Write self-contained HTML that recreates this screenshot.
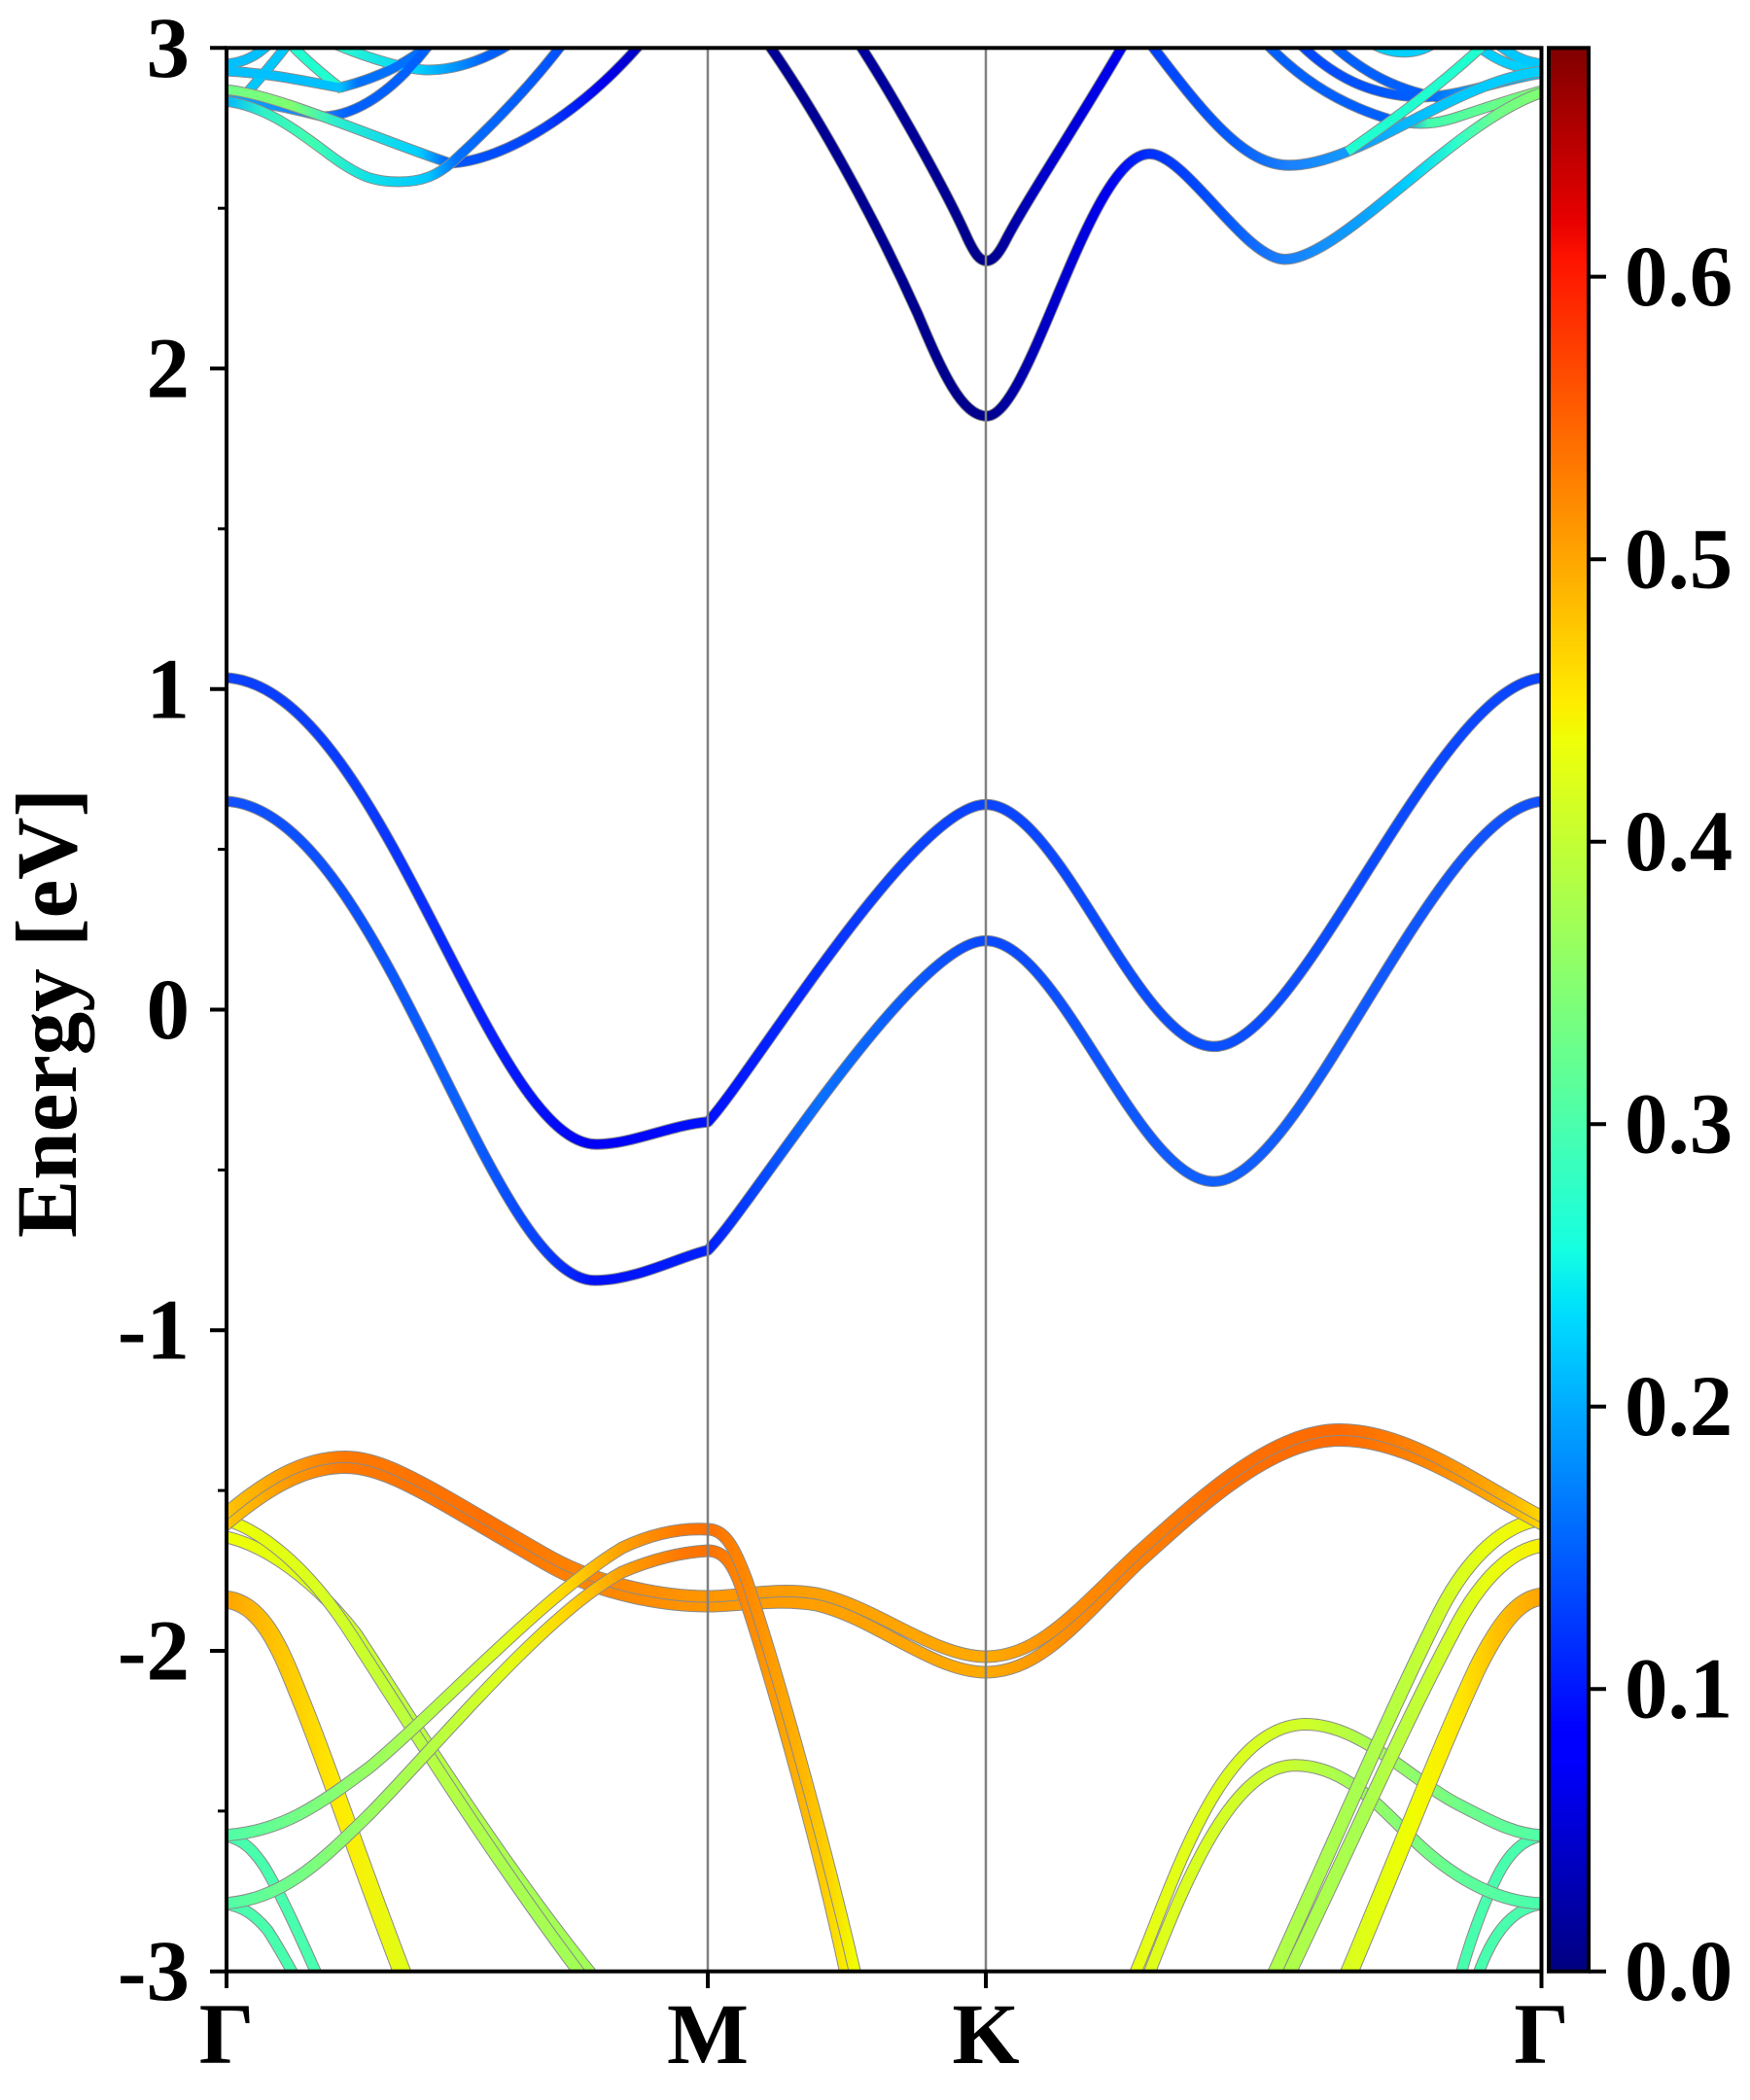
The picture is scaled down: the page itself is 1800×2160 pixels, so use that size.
<!DOCTYPE html>
<html>
<head>
<meta charset="utf-8">
<style>
html,body{margin:0;padding:0;background:#ffffff;}
svg{display:block;}
</style>
</head>
<body>
<svg width="1800" height="2160" viewBox="0 0 1800 2160" xmlns="http://www.w3.org/2000/svg">
<defs>
<clipPath id="clip"><rect x="233" y="49.3" width="1352.5" height="1978.4"/></clipPath>

<linearGradient id="jet" x1="0" y1="1" x2="0" y2="0">
<stop offset="0" stop-color="#000080"/><stop offset="0.11" stop-color="#0000ff"/><stop offset="0.125" stop-color="#0000ff"/>
<stop offset="0.34" stop-color="#00dbff"/><stop offset="0.35" stop-color="#00e6f7"/><stop offset="0.375" stop-color="#15ffe2"/>
<stop offset="0.5" stop-color="#7bff7b"/><stop offset="0.64" stop-color="#efff08"/><stop offset="0.65" stop-color="#f7f500"/>
<stop offset="0.66" stop-color="#ffec00"/><stop offset="0.89" stop-color="#ff1300"/><stop offset="0.91" stop-color="#e80000"/>
<stop offset="1" stop-color="#800000"/>
</linearGradient>

<linearGradient id="gA" gradientUnits="userSpaceOnUse" x1="233" y1="0" x2="1585.5" y2="0">
<stop offset="0" stop-color="#0a40ff"/><stop offset="0.1" stop-color="#0a3cff"/><stop offset="0.2" stop-color="#0820ff"/>
<stop offset="0.28" stop-color="#0000f5"/><stop offset="0.366" stop-color="#0010ff"/><stop offset="0.5" stop-color="#0a40ff"/>
<stop offset="0.5775" stop-color="#0a44ff"/><stop offset="0.75" stop-color="#0a50ff"/><stop offset="1" stop-color="#0a44ff"/>
</linearGradient>
<linearGradient id="gB" gradientUnits="userSpaceOnUse" x1="233" y1="0" x2="1585.5" y2="0">
<stop offset="0" stop-color="#1050ff"/><stop offset="0.1" stop-color="#0a50ff"/><stop offset="0.18" stop-color="#0a62ff"/>
<stop offset="0.24" stop-color="#0840ff"/><stop offset="0.28" stop-color="#0010f8"/><stop offset="0.366" stop-color="#0020ff"/>
<stop offset="0.45" stop-color="#0a70ff"/><stop offset="0.5775" stop-color="#0a48ff"/><stop offset="0.75" stop-color="#1060ff"/>
<stop offset="1" stop-color="#1050ff"/>
</linearGradient>
<linearGradient id="gC" gradientUnits="userSpaceOnUse" x1="233" y1="0" x2="1585.5" y2="0">
<stop offset="0.4133" stop-color="#000096"/><stop offset="0.5775" stop-color="#00008c"/><stop offset="0.6263" stop-color="#0000c8"/>
<stop offset="0.6706" stop-color="#0000f0"/><stop offset="0.7017" stop-color="#0030ff"/><stop offset="0.7519" stop-color="#0050ff"/>
<stop offset="0.8044" stop-color="#1a80ff"/><stop offset="0.8628" stop-color="#0aa0ff"/><stop offset="0.8998" stop-color="#00d0ff"/>
<stop offset="0.9368" stop-color="#30ffc8"/><stop offset="0.9664" stop-color="#70ff88"/><stop offset="1" stop-color="#80ff70"/>
</linearGradient>
<linearGradient id="gD" gradientUnits="userSpaceOnUse" x1="233" y1="0" x2="1585.5" y2="0">
<stop offset="0.4828" stop-color="#0000a0"/><stop offset="0.5775" stop-color="#00008c"/><stop offset="0.6263" stop-color="#0000d0"/>
<stop offset="0.681" stop-color="#0000f0"/>
</linearGradient>
<linearGradient id="gE" gradientUnits="userSpaceOnUse" x1="233" y1="0" x2="1585.5" y2="0">
<stop offset="0.7017" stop-color="#0040ff"/><stop offset="0.7593" stop-color="#0058ff"/><stop offset="0.8081" stop-color="#1a80ff"/>
<stop offset="0.8628" stop-color="#10a0ff"/><stop offset="0.922" stop-color="#00c8ff"/><stop offset="1" stop-color="#00d0ff"/>
</linearGradient>
<linearGradient id="gTL1" gradientUnits="userSpaceOnUse" x1="233" y1="0" x2="1585.5" y2="0">
<stop offset="0" stop-color="#00b8ff"/><stop offset="0.0274" stop-color="#30f0c8"/><stop offset="0.0643" stop-color="#40ffb0"/>
<stop offset="0.1087" stop-color="#10e0e8"/><stop offset="0.1531" stop-color="#00c8ff"/><stop offset="0.1752" stop-color="#0070ff"/>
<stop offset="0.2566" stop-color="#0050ff"/>
</linearGradient>
<linearGradient id="gTL2" gradientUnits="userSpaceOnUse" x1="233" y1="0" x2="1585.5" y2="0">
<stop offset="0" stop-color="#70ff88"/><stop offset="0.0495" stop-color="#80ff70"/><stop offset="0.0791" stop-color="#30f0c8"/>
<stop offset="0.1457" stop-color="#00d0ff"/><stop offset="0.1701" stop-color="#0058ff"/><stop offset="0.2418" stop-color="#0040ff"/>
<stop offset="0.2861" stop-color="#0000f0"/><stop offset="0.3157" stop-color="#0000c0"/>
</linearGradient>
<linearGradient id="gTL3" gradientUnits="userSpaceOnUse" x1="233" y1="0" x2="1585.5" y2="0">
<stop offset="0" stop-color="#00a8ff"/><stop offset="0.0717" stop-color="#1a80ff"/><stop offset="0.0939" stop-color="#0060ff"/><stop offset="1" stop-color="#0060ff"/>
</linearGradient>
<linearGradient id="gTL4" gradientUnits="userSpaceOnUse" x1="233" y1="0" x2="1585.5" y2="0">
<stop offset="0" stop-color="#00c0ff"/><stop offset="0.0865" stop-color="#00c0ff"/><stop offset="0.1" stop-color="#0070ff"/><stop offset="1" stop-color="#0070ff"/>
</linearGradient>
<linearGradient id="gTL5" gradientUnits="userSpaceOnUse" x1="233" y1="0" x2="1585.5" y2="0">
<stop offset="0.0791" stop-color="#30ffc8"/><stop offset="0.1457" stop-color="#00d0ff"/><stop offset="0.1974" stop-color="#0060ff"/><stop offset="1" stop-color="#0060ff"/>
</linearGradient>
<linearGradient id="gTR1" gradientUnits="userSpaceOnUse" x1="233" y1="0" x2="1585.5" y2="0">
<stop offset="0.7889" stop-color="#0060ff"/><stop offset="0.885" stop-color="#0060ff"/><stop offset="0.9146" stop-color="#40ffb0"/><stop offset="1" stop-color="#80ff70"/>
</linearGradient>
<linearGradient id="gTR2" gradientUnits="userSpaceOnUse" x1="233" y1="0" x2="1585.5" y2="0">
<stop offset="0.8" stop-color="#0040ff"/><stop offset="0.9072" stop-color="#0060ff"/><stop offset="0.9368" stop-color="#0090ff"/><stop offset="1" stop-color="#00c0ff"/>
</linearGradient>

<linearGradient id="gP1" gradientUnits="userSpaceOnUse" x1="233" y1="0" x2="1585.5" y2="0">
<stop offset="0" stop-color="#ffc400"/><stop offset="0.0495" stop-color="#ff9800"/><stop offset="0.0902" stop-color="#ff7800"/>
<stop offset="0.1974" stop-color="#ff7000"/><stop offset="0.2714" stop-color="#ff8400"/><stop offset="0.366" stop-color="#ff9600"/>
<stop offset="0.4562" stop-color="#ffa000"/><stop offset="0.5775" stop-color="#ffaa00"/><stop offset="0.641" stop-color="#ff8c00"/>
<stop offset="0.7519" stop-color="#ff7000"/><stop offset="0.8466" stop-color="#ff6a00"/><stop offset="0.922" stop-color="#ff8a00"/>
<stop offset="0.9738" stop-color="#ffb000"/><stop offset="1" stop-color="#ffd800"/>
</linearGradient>
<linearGradient id="gP2" gradientUnits="userSpaceOnUse" x1="233" y1="0" x2="1585.5" y2="0">
<stop offset="0" stop-color="#f0ff00"/><stop offset="0.0717" stop-color="#d8ff20"/><stop offset="0.1457" stop-color="#b8ff40"/>
<stop offset="0.2196" stop-color="#a8ff50"/><stop offset="0.2861" stop-color="#a0ff58"/>
</linearGradient>
<linearGradient id="gV3" gradientUnits="userSpaceOnUse" x1="233" y1="0" x2="1585.5" y2="0">
<stop offset="0" stop-color="#ffa500"/><stop offset="0.0495" stop-color="#ffcc00"/><stop offset="0.0865" stop-color="#ffec00"/><stop offset="0.1383" stop-color="#e0ff18"/>
</linearGradient>
<linearGradient id="gV4" gradientUnits="userSpaceOnUse" x1="233" y1="0" x2="1585.5" y2="0">
<stop offset="0" stop-color="#50ffa8"/><stop offset="0.0495" stop-color="#70ff88"/><stop offset="0.1087" stop-color="#98ff60"/>
<stop offset="0.1604" stop-color="#b8ff40"/><stop offset="0.2122" stop-color="#e0ff18"/><stop offset="0.2566" stop-color="#ffd800"/>
<stop offset="0.3009" stop-color="#ffa000"/><stop offset="0.3453" stop-color="#ff7800"/><stop offset="0.366" stop-color="#ff7000"/>
<stop offset="0.4044" stop-color="#ff9000"/><stop offset="0.434" stop-color="#ffb000"/><stop offset="0.4562" stop-color="#ffd000"/>
<stop offset="0.4784" stop-color="#f0ff00"/>
</linearGradient>
<linearGradient id="gA1" gradientUnits="userSpaceOnUse" x1="233" y1="0" x2="1585.5" y2="0">
<stop offset="0.8" stop-color="#b0ff48"/><stop offset="0.8628" stop-color="#a8ff50"/><stop offset="0.9146" stop-color="#c8ff30"/>
<stop offset="0.959" stop-color="#e8ff10"/><stop offset="1" stop-color="#f8f000"/>
</linearGradient>
<linearGradient id="gA2" gradientUnits="userSpaceOnUse" x1="233" y1="0" x2="1585.5" y2="0">
<stop offset="0.85" stop-color="#d8ff20"/><stop offset="0.8998" stop-color="#f0ff00"/><stop offset="0.9368" stop-color="#ffe800"/>
<stop offset="0.9664" stop-color="#ffc000"/><stop offset="1" stop-color="#ffa500"/>
</linearGradient>
<linearGradient id="gH1" gradientUnits="userSpaceOnUse" x1="233" y1="0" x2="1585.5" y2="0">
<stop offset="0.69" stop-color="#e8ff10"/><stop offset="0.8207" stop-color="#d0ff28"/><stop offset="0.8703" stop-color="#a8ff50"/>
<stop offset="0.9368" stop-color="#70ff88"/><stop offset="1" stop-color="#50ffa8"/>
</linearGradient>
<linearGradient id="gH2" gradientUnits="userSpaceOnUse" x1="233" y1="0" x2="1585.5" y2="0">
<stop offset="0.7" stop-color="#e0ff18"/><stop offset="0.8081" stop-color="#c8ff30"/><stop offset="0.8776" stop-color="#90ff68"/>
<stop offset="0.9368" stop-color="#60ff98"/><stop offset="1" stop-color="#48ffae"/>
</linearGradient>
</defs>

<g clip-path="url(#clip)" fill="none" stroke-linejoin="round" stroke-linecap="butt">
<!-- upper tangles top-left -->
<g stroke="#8a8a8a" stroke-width="11">
<path d="M230,66 C250,65 265,58 282,40"/>
<path d="M300,40 C285,60 268,80 250,100"/>
<path d="M292,38 C310,58 330,75 352,92"/>
<path d="M328,38 C375,60 420,72 440,72 C470,72 505,60 535,38"/>
<path d="M230,73 C280,75 320,85 350,90 C390,80 420,65 452,38"/>
<path d="M230,103 C270,104 300,112 333,120 C370,118 410,90 447,38"/>
</g>
<path d="M230,66 C250,65 265,58 282,40" stroke="#00c0ff" stroke-width="9"/>
<path d="M300,40 C285,60 268,80 250,100" stroke="#00c8ff" stroke-width="9"/>
<path d="M292,38 C310,58 330,75 352,92" stroke="#20ffd0" stroke-width="9"/>
<path d="M328,38 C375,60 420,72 440,72 C470,72 505,60 535,38" stroke="url(#gTL5)" stroke-width="9"/>
<path d="M230,73 C280,75 320,85 350,90 C390,80 420,65 452,38" stroke="url(#gTL4)" stroke-width="9"/>
<path d="M230,103 C270,104 300,112 333,120 C370,118 410,90 447,38" stroke="url(#gTL3)" stroke-width="9"/>
<path d="M230,92 C280,95 380,140 463,168 C520,165 600,115 665,38" stroke="#8a8a8a" stroke-width="11"/>
<path d="M230,92 C280,95 380,140 463,168 C520,165 600,115 665,38" stroke="url(#gTL2)" stroke-width="9"/>
<path d="M230,104 C270,108 300,130 340,160 C370,182 385,187 410,187 C435,187 450,180 465,167 C500,135 545,90 584,38" stroke="#8a8a8a" stroke-width="11"/>
<path d="M230,104 C270,108 300,130 340,160 C370,182 385,187 410,187 C435,187 450,180 465,167 C500,135 545,90 584,38" stroke="url(#gTL1)" stroke-width="9"/>

<!-- upper tangles top-right -->
<g stroke="#8a8a8a" stroke-width="11">
<path d="M1410,44 C1430,56 1455,58 1476,44"/>
<path d="M1512,40 C1535,62 1560,72 1590,72"/>
<path d="M1534,40 C1555,58 1570,65 1590,66"/>
<path d="M1362,38 C1400,75 1440,95 1490,102"/>
<path d="M1330,38 C1370,80 1410,98 1460,100 C1500,100 1550,80 1590,75"/>
<path d="M1296,38 C1330,75 1370,105 1430,123 C1460,130 1480,127 1500,120 C1530,110 1560,100 1590,92"/>
</g>
<path d="M1410,44 C1430,56 1455,58 1476,44" stroke="#00d0ff" stroke-width="9"/>
<path d="M1512,40 C1535,62 1560,72 1590,72" stroke="#00d0ff" stroke-width="9"/>
<path d="M1534,40 C1555,58 1570,65 1590,66" stroke="#00c8ff" stroke-width="9"/>
<path d="M1362,38 C1400,75 1440,95 1490,102" stroke="#0060ff" stroke-width="9"/>
<path d="M1330,38 C1370,80 1410,98 1460,100 C1500,100 1550,80 1590,75" stroke="url(#gTR2)" stroke-width="9"/>
<path d="M1296,38 C1330,75 1370,105 1430,123 C1460,130 1480,127 1500,120 C1530,110 1560,100 1590,92" stroke="url(#gTR1)" stroke-width="9"/>

<!-- conduction bands -->
<path d="M1178,38 C1240,120 1280,170 1326,170 C1400,170 1500,80 1590,73" stroke="#8a8a8a" stroke-width="11.5"/>
<path d="M1178,38 C1240,120 1280,170 1326,170 C1400,170 1500,80 1590,73" stroke="url(#gE)" stroke-width="9.5"/>
<path d="M1386,156 C1430,125 1480,90 1535,38" stroke="#8a8a8a" stroke-width="11"/>
<path d="M1386,156 C1430,125 1480,90 1535,38" stroke="#20ffd0" stroke-width="9"/>
<path d="M879,38 C920,100 975,200 995,245 C1003,262 1008,268.3 1014.8,268.3 C1021,268.3 1027,262 1035,246 C1058,202 1118,112 1160,38" stroke="#8a8a8a" stroke-width="11.5"/>
<path d="M879,38 C920,100 975,200 995,245 C1003,262 1008,268.3 1014.8,268.3 C1021,268.3 1027,262 1035,246 C1058,202 1118,112 1160,38" stroke="url(#gD)" stroke-width="9.5"/>
<path d="M785,38 C840,115 900,225 944,323 C970,385 990,428 1014.8,428 C1060,428 1120,158.3 1182.6,158.3 C1220,158.3 1280,266.7 1321.6,266.7 C1380,266.7 1500,120 1590,94" stroke="#8a8a8a" stroke-width="11.5"/>
<path d="M785,38 C840,115 900,225 944,323 C970,385 990,428 1014.8,428 C1060,428 1120,158.3 1182.6,158.3 C1220,158.3 1280,266.7 1321.6,266.7 C1380,266.7 1500,120 1590,94" stroke="url(#gC)" stroke-width="9.5"/>

<path d="M228,697 C390,697 500,1177 613.7,1177 C650,1177 690,1157 728,1154 C770,1110 940,827.5 1014,827.5 C1090,827.5 1170,1076.4 1248.8,1076.4 C1340,1076.4 1480,697 1590,697" stroke="#8a8a8a" stroke-width="11.5"/>
<path d="M228,697 C390,697 500,1177 613.7,1177 C650,1177 690,1157 728,1154 C770,1110 940,827.5 1014,827.5 C1090,827.5 1170,1076.4 1248.8,1076.4 C1340,1076.4 1480,697 1590,697" stroke="url(#gA)" stroke-width="9.5"/>
<path d="M228,824 C390,824 500,1317 612,1317 C655,1317 700,1292 728,1286 C770,1245 940,967.6 1014,967.6 C1090,967.6 1170,1215.3 1248.8,1215.3 C1340,1215.3 1480,824 1590,824" stroke="#8a8a8a" stroke-width="11.5"/>
<path d="M228,824 C390,824 500,1317 612,1317 C655,1317 700,1292 728,1286 C770,1245 940,967.6 1014,967.6 C1090,967.6 1170,1215.3 1248.8,1215.3 C1340,1215.3 1480,824 1590,824" stroke="url(#gB)" stroke-width="9.5"/>

<!-- valence: green descending -->
<g stroke="#8a8a8a" stroke-width="12">
<path d="M228,1888 C250,1890 262,1905 272,1920 C290,1950 310,1995 330,2040"/>
<path d="M228,1958 C250,1960 262,1970 275,1985 C285,2000 295,2018 307,2040"/>
<path d="M1590,1888 C1565,1890 1550,1910 1540,1930 C1525,1960 1512,1995 1500,2040"/>
<path d="M1590,1958 C1565,1960 1550,1975 1540,1990 C1530,2005 1524,2020 1517,2040"/>
</g>
<g stroke="#48ffae" stroke-width="10">
<path d="M228,1888 C250,1890 262,1905 272,1920 C290,1950 310,1995 330,2040"/>
<path d="M228,1958 C250,1960 262,1970 275,1985 C285,2000 295,2018 307,2040"/>
<path d="M1590,1888 C1565,1890 1550,1910 1540,1930 C1525,1960 1512,1995 1500,2040"/>
<path d="M1590,1958 C1565,1960 1550,1975 1540,1990 C1530,2005 1524,2020 1517,2040"/>
</g>

<!-- H1, H2 -->
<path d="M1178,2040 C1215,1945 1265,1815.7 1332,1815.7 C1385,1815.7 1420,1860 1460,1898 C1500,1935 1545,1958 1590,1958" stroke="#8a8a8a" stroke-width="13"/>
<path d="M1178,2040 C1215,1945 1265,1815.7 1332,1815.7 C1385,1815.7 1420,1860 1460,1898 C1500,1935 1545,1958 1590,1958" stroke="url(#gH2)" stroke-width="11"/>
<path d="M1163,2040 C1200,1960 1250,1773.5 1343,1773.5 C1400,1773.5 1450,1830 1500,1856 C1535,1874 1560,1888 1590,1888" stroke="#8a8a8a" stroke-width="13"/>
<path d="M1163,2040 C1200,1960 1250,1773.5 1343,1773.5 C1400,1773.5 1450,1830 1500,1856 C1535,1874 1560,1888 1590,1888" stroke="url(#gH1)" stroke-width="11"/>

<!-- P2 descending pair left -->
<path d="M228,1580 C272,1588 324,1626 366,1680 C406,1740 506,1905 616,2040" stroke="#8a8a8a" stroke-width="13"/>
<path d="M228,1580 C272,1588 324,1626 366,1680 C406,1740 506,1905 616,2040" stroke="url(#gP2)" stroke-width="11"/>
<path d="M228,1562 C270,1573 316,1614 354,1670 C394,1730 494,1895 604,2040" stroke="#8a8a8a" stroke-width="13"/>
<path d="M228,1562 C270,1573 316,1614 354,1670 C394,1730 494,1895 604,2040" stroke="url(#gP2)" stroke-width="11"/>

<!-- A1 ascending pair right -->
<path d="M1321,2040 C1388,1900 1446,1770 1494,1680 C1522,1625 1555,1592 1590,1589" stroke="#8a8a8a" stroke-width="15"/>
<path d="M1321,2040 C1388,1900 1446,1770 1494,1680 C1522,1625 1555,1592 1590,1589" stroke="url(#gA1)" stroke-width="13"/>
<path d="M1306,2040 C1370,1900 1430,1760 1480,1660 C1510,1600 1550,1565 1590,1562" stroke="#8a8a8a" stroke-width="15"/>
<path d="M1306,2040 C1370,1900 1430,1760 1480,1660 C1510,1600 1550,1565 1590,1562" stroke="url(#gA1)" stroke-width="13"/>

<!-- V3 left, A2 right -->
<path d="M228,1645 C270,1645 290,1700 310,1750 C335,1810 375,1930 418,2040" stroke="#8a8a8a" stroke-width="19"/>
<path d="M228,1645 C270,1645 290,1700 310,1750 C335,1810 375,1930 418,2040" stroke="url(#gV3)" stroke-width="17"/>
<path d="M1383,2040 C1430,1930 1480,1800 1520,1715 C1545,1665 1565,1642 1590,1642" stroke="#8a8a8a" stroke-width="19"/>
<path d="M1383,2040 C1430,1930 1480,1800 1520,1715 C1545,1665 1565,1642 1590,1642" stroke="url(#gA2)" stroke-width="17"/>

<!-- P1 pair -->
<path d="M228,1572 C270,1536 310,1509.5 355,1509.5 C400,1509.5 450,1545.5 560,1608.5 C620,1643.5 690,1652 728,1652 C760,1652 800,1644 840,1651 C900,1665 960,1720 1014,1720 C1070,1720 1110,1667 1170,1609 C1240,1545.5 1310,1481.5 1378,1481.5 C1450,1481.5 1520,1534 1590,1570" stroke="#8a8a8a" stroke-width="13"/>
<path d="M228,1572 C270,1536 310,1509.5 355,1509.5 C400,1509.5 450,1545.5 560,1608.5 C620,1643.5 690,1652 728,1652 C760,1652 800,1644 840,1651 C900,1665 960,1720 1014,1720 C1070,1720 1110,1667 1170,1609 C1240,1545.5 1310,1481.5 1378,1481.5 C1450,1481.5 1520,1534 1590,1570" stroke="url(#gP1)" stroke-width="11"/>
<path d="M228,1560 C270,1524 310,1498.5 355,1498.5 C400,1498.5 450,1534.5 560,1597.5 C620,1632.5 690,1642 728,1642 C760,1642 800,1632 840,1639 C900,1651 960,1704 1014,1704 C1070,1704 1110,1653 1170,1597 C1240,1534.5 1310,1470.5 1378,1470.5 C1450,1470.5 1520,1526 1590,1562" stroke="#8a8a8a" stroke-width="13"/>
<path d="M228,1560 C270,1524 310,1498.5 355,1498.5 C400,1498.5 450,1534.5 560,1597.5 C620,1632.5 690,1642 728,1642 C760,1642 800,1632 840,1639 C900,1651 960,1704 1014,1704 C1070,1704 1110,1653 1170,1597 C1240,1534.5 1310,1470.5 1378,1470.5 C1450,1470.5 1520,1526 1590,1562" stroke="url(#gP1)" stroke-width="11"/>

<!-- V4 ascending pair + steep descent after M -->
<path d="M228,1958 C290,1955 330,1915 380,1866 C450,1795 560,1660 640,1617 C680,1600 710,1596 728,1595 C742,1595 752,1604 762,1632 C794,1727 844,1905 872,2040" stroke="#8a8a8a" stroke-width="13"/>
<path d="M228,1958 C290,1955 330,1915 380,1866 C450,1795 560,1660 640,1617 C680,1600 710,1596 728,1595 C742,1595 752,1604 762,1632 C794,1727 844,1905 872,2040" stroke="url(#gV4)" stroke-width="11"/>
<path d="M228,1888 C290,1885 330,1855 380,1818 C450,1760 560,1640 640,1592 C680,1573 710,1572 728,1573 C745,1573 755,1590 768,1625 C800,1720 850,1900 882,2040" stroke="#8a8a8a" stroke-width="13"/>
<path d="M228,1888 C290,1885 330,1855 380,1818 C450,1760 560,1640 640,1592 C680,1573 710,1572 728,1573 C745,1573 755,1590 768,1625 C800,1720 850,1900 882,2040" stroke="url(#gV4)" stroke-width="11"/>
</g>

<!-- high-symmetry lines -->
<g stroke="#808080" stroke-width="2.5">
<line x1="728" y1="49.3" x2="728" y2="2027.7"/>
<line x1="1014" y1="49.3" x2="1014" y2="2027.7"/>
</g>

<!-- axes frame -->
<rect x="233" y="49.3" width="1352.5" height="1978.4" fill="none" stroke="#000" stroke-width="4"/>
<g stroke="#000" stroke-width="4">
<line x1="216" y1="49.3" x2="233" y2="49.3"/>
<line x1="216" y1="379" x2="233" y2="379"/>
<line x1="216" y1="708.8" x2="233" y2="708.8"/>
<line x1="216" y1="1038.5" x2="233" y2="1038.5"/>
<line x1="216" y1="1368.2" x2="233" y2="1368.2"/>
<line x1="216" y1="1698" x2="233" y2="1698"/>
<line x1="216" y1="2027.7" x2="233" y2="2027.7"/>
<line x1="233" y1="2027.7" x2="233" y2="2045"/>
<line x1="728" y1="2027.7" x2="728" y2="2045"/>
<line x1="1014" y1="2027.7" x2="1014" y2="2045"/>
<line x1="1585.5" y1="2027.7" x2="1585.5" y2="2045"/>
</g>
<g stroke="#000" stroke-width="3">
<line x1="224" y1="214.2" x2="233" y2="214.2"/>
<line x1="224" y1="543.9" x2="233" y2="543.9"/>
<line x1="224" y1="873.6" x2="233" y2="873.6"/>
<line x1="224" y1="1203.4" x2="233" y2="1203.4"/>
<line x1="224" y1="1533.1" x2="233" y2="1533.1"/>
<line x1="224" y1="1862.8" x2="233" y2="1862.8"/>
</g>

<!-- colorbar -->
<rect x="1593" y="49.3" width="41" height="1978.4" fill="url(#jet)" stroke="#000" stroke-width="4"/>
<g stroke="#000" stroke-width="4">
<line x1="1634" y1="2027.7" x2="1652" y2="2027.7"/>
<line x1="1634" y1="1737.2" x2="1652" y2="1737.2"/>
<line x1="1634" y1="1446.7" x2="1652" y2="1446.7"/>
<line x1="1634" y1="1156.2" x2="1652" y2="1156.2"/>
<line x1="1634" y1="865.7" x2="1652" y2="865.7"/>
<line x1="1634" y1="575.2" x2="1652" y2="575.2"/>
<line x1="1634" y1="284.6" x2="1652" y2="284.6"/>
</g>

<!-- text -->
<g font-family="'Liberation Serif', 'Times New Roman', serif" font-weight="bold" font-size="89" fill="#000">
<g text-anchor="end">
<text x="195" y="79">3</text>
<text x="195" y="408.5">2</text>
<text x="195" y="738.3">1</text>
<text x="195" y="1068">0</text>
<text x="195" y="1397.7">-1</text>
<text x="195" y="1727.5">-2</text>
<text x="195" y="2057.2">-3</text>
</g>
<g text-anchor="middle">
<text x="233" y="2122">Γ</text>
<text x="728" y="2122">M</text>
<text x="1014" y="2122">K</text>
<text x="1585.5" y="2122">Γ</text>
</g>
<g text-anchor="start">
<text x="1671" y="2057.2">0.0</text>
<text x="1671" y="1766.7">0.1</text>
<text x="1671" y="1476.2">0.2</text>
<text x="1671" y="1185.7">0.3</text>
<text x="1671" y="895.2">0.4</text>
<text x="1671" y="604.7">0.5</text>
<text x="1671" y="314.1">0.6</text>
</g>
<text transform="translate(78,1042) rotate(-90)" text-anchor="middle">Energy [eV]</text>
</g>
</svg>
</body>
</html>
